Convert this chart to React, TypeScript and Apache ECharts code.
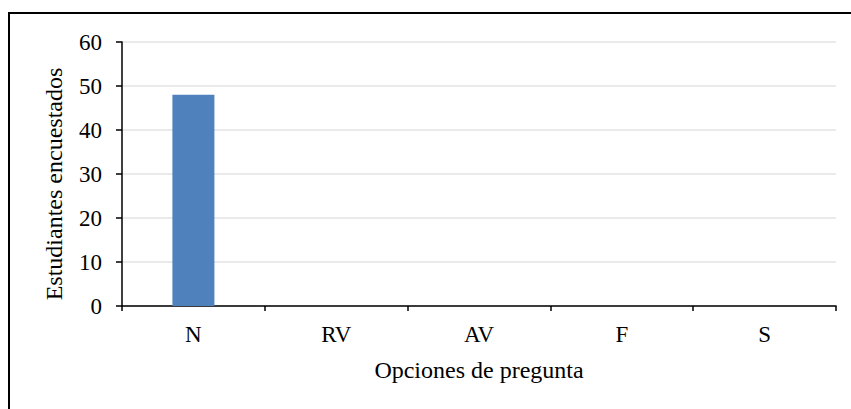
import React, { useEffect, useRef } from "react";
import * as echarts from "echarts";

const categories = ["N", "RV", "AV", "F", "S"];
const values = [48, 0, 0, 0, 0];
const yTicks = { min: 0, max: 60, interval: 10 };
const xName = "Opciones de pregunta";
const yName = "Estudiantes encuestados";

const FONT = "'Liberation Serif', 'Times New Roman', serif";

export default function App() {
  const ref = useRef<HTMLDivElement>(null);
  useEffect(() => {
    document.body.style.margin = "0";
    const chart = echarts.init(ref.current!, undefined, { renderer: "svg" });
    chart.setOption({
      animation: false,
      backgroundColor: "#ffffff",
      grid: { left: 122, right: 15, top: 42, bottom: 103 },
      graphic: [
        {
          type: "rect",
          shape: { x: 9, y: 13, width: 900, height: 500 },
          style: { fill: "none", stroke: "#000000", lineWidth: 2 },
          silent: true,
        },
      ],
      xAxis: {
        type: "category",
        data: categories,
        name: xName,
        nameLocation: "middle",
        nameGap: 52,
        nameTextStyle: { fontFamily: FONT, fontSize: 24, color: "#000" },
        axisLine: { lineStyle: { color: "#000", width: 1.5 } },
        axisTick: { show: true, length: 5, lineStyle: { color: "#000", width: 1.5 } },
        axisLabel: { fontFamily: FONT, fontSize: 23, color: "#000", margin: 17 },
      },
      yAxis: {
        type: "value",
        min: yTicks.min,
        max: yTicks.max,
        interval: yTicks.interval,
        name: yName,
        nameLocation: "middle",
        nameGap: 56,
        nameTextStyle: { fontFamily: FONT, fontSize: 24, color: "#000", padding: [0, 20, 0, 0] },
        axisLine: { show: true, lineStyle: { color: "#000", width: 1.5 } },
        axisTick: { show: true, length: 6, lineStyle: { color: "#000", width: 1.5 } },
        axisLabel: { fontFamily: FONT, fontSize: 23, color: "#000", margin: 20 },
        splitLine: { lineStyle: { color: "#e3e3e3", width: 1.5 } },
      },
      series: [
        {
          type: "bar",
          data: values,
          barWidth: 42,
          itemStyle: { color: "#4f81bd" },
        },
      ],
    });
    return () => chart.dispose();
  }, []);
  return <div ref={ref} style={{ width: 851, height: 409, position: "absolute", left: 0, top: 0 }} />;
}
